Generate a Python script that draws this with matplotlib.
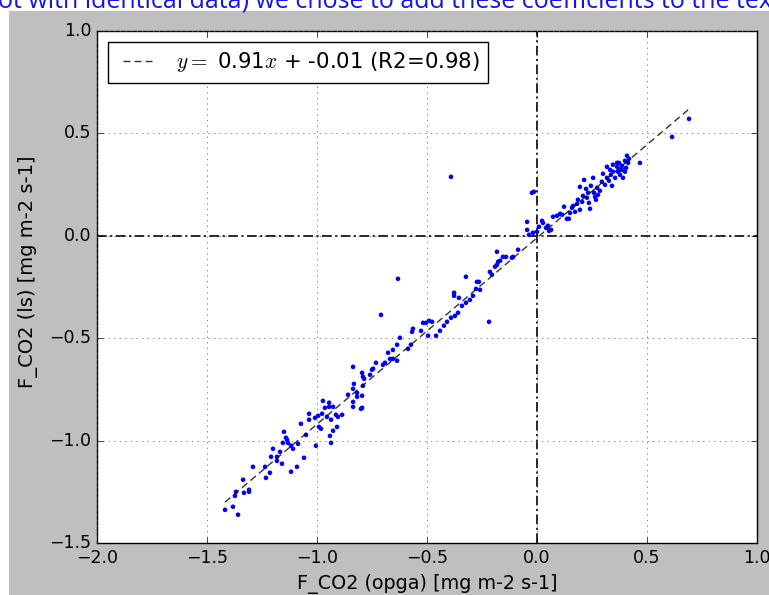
import numpy as np
import matplotlib
matplotlib.use("Agg")
import matplotlib.pyplot as plt
from matplotlib.patches import Rectangle

# flux pairs: open-path (opga) vs. LI-COR closed path (ls), mg m-2 s-1
flux_opga = [
    -1.418, -1.382, -1.359, -1.373, -1.368, -1.332, -1.336, -1.309, -1.309, -1.291,
    -1.232, -1.236, -1.214, -1.200, -1.209, -1.182, -1.182, -1.168, -1.159, -1.150,
    -1.141, -1.136, -1.155, -1.132, -1.118, -1.109, -1.118, -1.091, -1.086, -1.073,
    -1.059, -1.050, -1.036, -1.036, -1.009, -1.005, -0.995, -0.991, -0.977, -0.982,
    -0.973, -0.964, -0.955, -0.945, -0.945, -0.941, -0.936, -0.936, -0.927, -0.927,
    -0.914, -0.909, -0.905, -0.886, -0.836, -0.836, -0.795, -0.800,
    -0.632, -0.709, -0.623, -0.568, -0.564, -0.527, -0.518, -0.505, -0.491, -0.495,
    -0.573, -0.586, -0.636, -0.655, -0.677, -0.668, -0.636, -0.655, -0.691, -0.700,
    -0.732, -0.745, -0.750, -0.759, -0.791, -0.786, -0.795, -0.791, -0.836, -0.832,
    -0.836, -0.818, -0.795, -0.818, -0.859, -0.477,
    -0.459, -0.441, -0.423, -0.409, -0.391, -0.373, -0.359, -0.341, -0.323, -0.218,
    -0.305,
    -0.391, -0.323, -0.377, -0.377, -0.355, -0.291, -0.277, -0.264, -0.273, -0.259,
    -0.214, -0.205, -0.191, -0.182, -0.177, -0.182, -0.168, -0.155, -0.141, -0.114,
    -0.109, -0.086, -0.045, -0.045, -0.036, -0.023, -0.014, -0.018, 0.000, 0.009,
    0.023, 0.027, 0.041, 0.050, 0.055, 0.064, 0.073, 0.091, 0.105, 0.114,
    0.123, 0.136, 0.145, 0.150, 0.159, 0.164, 0.173, 0.182, 0.186, 0.195,
    0.205, 0.209, 0.214, 0.223, 0.227, 0.232, 0.236, 0.241, 0.245, 0.255,
    0.259, 0.264, 0.268, 0.273, 0.286, 0.295, 0.300, 0.309, 0.318, 0.318,
    0.327, 0.332, 0.336, 0.341, 0.345, 0.355, 0.364, 0.368, 0.373, 0.377,
    0.386, 0.391, 0.391, 0.400, 0.405, 0.409, 0.414, 0.418, 0.468, 0.614,
    0.691, 0.195, 0.277, 0.345, 0.364, 0.382, 0.400,
]
flux_ls = [
    -1.338, -1.323, -1.362, -1.270, -1.250, -1.255, -1.191, -1.240, -1.250, -1.128,
    -1.182, -1.128, -1.157, -1.040, -1.079, -1.079, -1.099, -1.055, -1.113, -0.957,
    -0.986, -0.996, -1.011, -1.011, -1.025, -1.040, -1.152, -1.128, -1.016, -0.918,
    -1.084, -0.972, -0.898, -0.869, -0.889, -1.025, -0.879, -0.933, -0.869, -0.942,
    -0.806, -0.840, -0.884, -0.815, -0.835, -0.977, -1.011, -0.898, -0.952, -0.835,
    -0.874, -0.933, -0.884, -0.874, -0.811, -0.835, -0.840, -0.845,
    -0.210, -0.386, -0.498, -0.469, -0.454, -0.464, -0.425, -0.425, -0.415, -0.488,
    -0.532, -0.552, -0.532, -0.557, -0.571, -0.601, -0.610, -0.601, -0.620, -0.630,
    -0.620, -0.649, -0.654, -0.679, -0.688, -0.698, -0.669, -0.732, -0.640, -0.723,
    -0.747, -0.767, -0.781, -0.786, -0.776, -0.420,
    -0.488, -0.464, -0.439, -0.420, -0.400, -0.391, -0.376, -0.342, -0.327, -0.420,
    -0.313,
    0.288, -0.200, -0.278, -0.293, -0.303, -0.293, -0.259, -0.225, -0.225, -0.264,
    -0.176, -0.190, -0.151, -0.142, -0.127, -0.078, -0.122, -0.103, -0.103, -0.107,
    -0.103, -0.068, 0.068, 0.029, 0.005, 0.210, 0.215, 0.015, 0.020, 0.044,
    0.073, 0.063, 0.039, 0.049, 0.024, 0.029, 0.093, 0.098, 0.107, 0.103,
    0.142, 0.083, 0.083, 0.112, 0.137, 0.146, 0.117, 0.156, 0.176, 0.127,
    0.166, 0.195, 0.273, 0.229, 0.186, 0.210, 0.161, 0.132, 0.244, 0.283,
    0.210, 0.190, 0.176, 0.234, 0.220, 0.264, 0.303, 0.249, 0.337, 0.283,
    0.269, 0.322, 0.298, 0.244, 0.313, 0.283, 0.337, 0.313, 0.356, 0.298,
    0.342, 0.322, 0.283, 0.366, 0.332, 0.391, 0.356, 0.376, 0.356, 0.483,
    0.571, 0.239, 0.200, 0.347, 0.356, 0.322, 0.313,
]

# regression result quoted in the legend
slope = 0.91
intercept = -0.01
r2 = 0.98

plt.style.use("classic")

fig = plt.figure(figsize=(7.69, 5.95), dpi=100, facecolor="white")
# grey figure panel below the white strip of surrounding text
fig.patches.append(Rectangle((9 / 769, 0), 1, 1 - 11 / 595, transform=fig.transFigure,
                             facecolor="#bfbfbf", edgecolor="none", zorder=-10))
fig.text(-0.003, 1 - 8 / 595,
         "ot with identical data) we chose to add these coefficients to the text",
         color="#1414e6", fontsize=18, family="Open Sans", va="baseline", ha="left")

ax = fig.add_axes([97 / 769, 1 - 543 / 595, 660 / 769, 512 / 595])

x = np.array(flux_opga)
y = np.array(flux_ls)

ax.scatter(x, y, s=11, c="b", edgecolors="none", zorder=3)

xfit = np.array([x.min(), x.max()])
ax.plot(xfit, slope * xfit + intercept, color="k", ls=(0, (5, 3)), lw=1, alpha=0.8,
        zorder=4, label=r"$y=$ %.2f$x$ + %.2f (R2=%.2f)" % (slope, intercept, r2))

zero_style = dict(color="k", ls=(0, (7, 2.5, 1.5, 2.5)), lw=1.2, zorder=2)
ax.axhline(0, **zero_style)
ax.axvline(0, **zero_style)

ax.set_xlim(-2.0, 1.0)
ax.set_ylim(-1.5, 1.0)
ax.set_xticks(np.arange(-2.0, 1.01, 0.5))
ax.set_yticks(np.arange(-1.5, 1.01, 0.5))
ax.tick_params(labelsize=12.5)
ax.grid(True, color="0.35")
ax.set_xlabel("F_CO2 (opga) [mg m-2 s-1]", fontsize=13.8)
ax.set_ylabel("F_CO2 (ls) [mg m-2 s-1]", fontsize=14)
ax.yaxis.set_label_coords(-0.09, 0.53)
ax.legend(loc="upper left", fontsize=15.3)

fig.savefig("out.png", dpi=100, facecolor="white")
